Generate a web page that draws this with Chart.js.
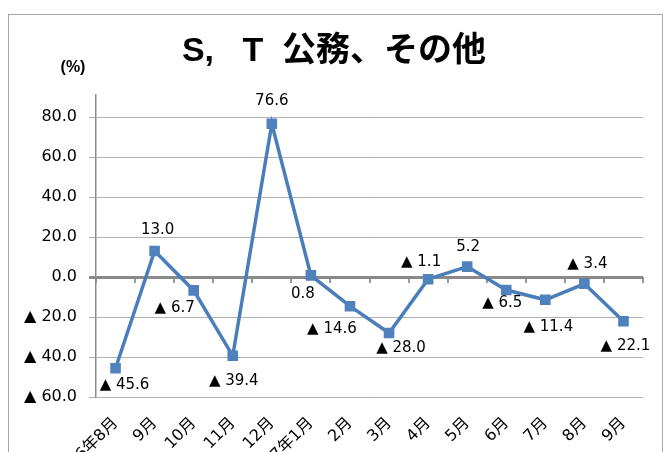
<!DOCTYPE html>
<html>
<head>
<meta charset="utf-8">
<script src="https://cdn.jsdelivr.net/npm/chart.js@4.4.1/dist/chart.umd.min.js"></script>
<style>
    html, body { margin: 0; padding: 0; overflow: hidden; background: #fff; }
    #frame { position: absolute; left: 8px; top: 14px; width: 653px; height: 480px; border: 1px solid #a6a6a6; }
    #wrap { position: absolute; left: 0; top: 0; width: 670px; height: 520px; }
</style>
</head>
<body>
<div id="frame"></div>
<div id="wrap"><canvas id="chart"></canvas></div>
<script>
// データ（前年同月比, %）
const months = ['令和6年8月', '9月', '10月', '11月', '12月', '令和7年1月', '2月', '3月', '4月', '5月', '6月', '7月', '8月', '9月'];
const rates = [-45.6, 13.0, -6.7, -39.4, 76.6, 0.8, -14.6, -28.0, -1.1, 5.2, -6.5, -11.4, -3.4, -22.1];
const yTicks = [-60, -40, -20, 0, 20, 40, 60, 80];

const chartTitle = 'S,   T  公務、その他';
const unitLabel = '(%)';

// ラベルの位置（点からのずれ）
const labelShift = [
    [9, 17], [3, -21], [-19, 18], [1, 25], [0, -23], [-8, 19], [-18, 23],
    [12, 15], [-7, -17], [1, -19], [-4, 13], [3, 27], [3, -20], [2, 25]
];

const fmt = v => v < 0 ? '▲ ' + Math.abs(v).toFixed(1) : v.toFixed(1);

const headerPlugin = {
    id: 'header',
    afterDraw(chart) {
        const ctx = chart.ctx;
        ctx.save();
        ctx.fillStyle = '#000';
        ctx.textAlign = 'center';
        ctx.textBaseline = 'middle';
        ctx.font = 'bold 34px "Liberation Sans", "Noto Sans CJK JP"';
        ctx.fillText(chartTitle, 334, 52);
        ctx.font = 'bold 16px "Liberation Sans", "Noto Sans CJK JP"';
        ctx.fillText(unitLabel, 73, 68);
        ctx.restore();
    }
};

const valueLabels = {
    id: 'valueLabels',
    afterDatasetsDraw(chart) {
        const ctx = chart.ctx;
        const meta = chart.getDatasetMeta(0);
        ctx.save();
        ctx.fillStyle = '#000';
        ctx.textAlign = 'center';
        ctx.textBaseline = 'middle';
        ctx.font = '15px "DejaVu Sans"';
        meta.data.forEach((pt, i) => {
            const [dx, dy] = labelShift[i];
            ctx.fillText(fmt(rates[i]), pt.x + dx, pt.y + dy);
        });
        ctx.restore();
    }
};

new Chart(document.getElementById('chart'), {
    type: 'line',
    data: {
        labels: months,
        datasets: [{
            data: rates,
            borderColor: '#4A7EBB',
            borderWidth: 3.5,
            backgroundColor: '#4F81BD',
            pointStyle: 'rect',
            pointRadius: 7.5,
            pointBorderWidth: 0,
            pointBackgroundColor: '#4F81BD',
            tension: 0
        }]
    },
    options: {
        responsive: true,
        maintainAspectRatio: false,
        animation: false,
        layout: { padding: { top: 95, right: 27, left: 0, bottom: 0 } },
        plugins: {
            legend: { display: false },
            tooltip: { enabled: false }
        },
        scales: {
            x: {
                position: 'bottom',
                offset: true,
                grid: { display: false },
                border: { display: false },
                ticks: {
                    autoSkip: false,
                    maxRotation: 45,
                    minRotation: 45,
                    padding: 9,
                    color: '#000',
                    font: { size: 16, family: '"DejaVu Sans", "Noto Sans CJK JP"' }
                },
                afterFit: s => { s.height = 123; }
            },
            x2: {
                type: 'category',
                labels: months,
                offset: true,
                position: { y: 0 },
                grid: { drawOnChartArea: false, offset: true, tickLength: 6, color: '#999', lineWidth: 2 },
                border: { display: false },
                ticks: { display: false },
                afterFit: s => { s.height = 0; }
            },
            y: {
                min: -60,
                max: 91,
                afterBuildTicks: s => { s.ticks = yTicks.map(v => ({ value: v })); },
                grid: {
                    color: c => c.tick && c.tick.value === 0 ? '#8a8a8a' : '#b0b0b0',
                    lineWidth: c => c.tick && c.tick.value === 0 ? 3 : 1,
                    tickLength: 7
                },
                border: { display: true, color: '#8c8c8c', width: 1.5 },
                ticks: {
                    padding: 12,
                    color: '#000',
                    font: { size: 16, family: '"DejaVu Sans"' },
                    callback: v => fmt(v)
                },
                afterFit: s => { s.width = 96; }
            }
        }
    },
    plugins: [headerPlugin, valueLabels]
});
</script>
</body>
</html>
